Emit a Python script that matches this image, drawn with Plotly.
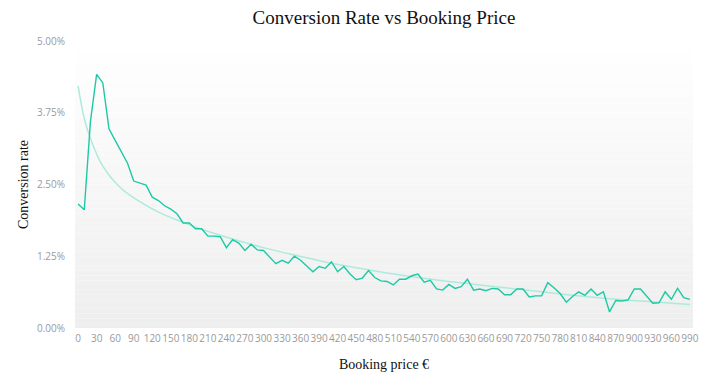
import plotly.graph_objects as go

# ---- data ----
price = list(range(0, 1000, 10))
conversion = [
    2.16, 2.06, 3.60, 4.42, 4.27, 3.47, 3.27, 3.08, 2.87, 2.56,
    2.53, 2.49, 2.28, 2.22, 2.13, 2.07, 1.99, 1.83, 1.83, 1.73,
    1.73, 1.60, 1.60, 1.59, 1.40, 1.54, 1.48, 1.35, 1.46, 1.36,
    1.35, 1.23, 1.12, 1.18, 1.13, 1.25, 1.18, 1.08, 0.98, 1.07,
    1.04, 1.15, 0.98, 1.07, 0.94, 0.84, 0.87, 1.00, 0.88, 0.82,
    0.81, 0.75, 0.85, 0.85, 0.91, 0.94, 0.80, 0.83, 0.68, 0.66,
    0.76, 0.69, 0.72, 0.85, 0.66, 0.68, 0.65, 0.69, 0.68, 0.58,
    0.58, 0.68, 0.68, 0.54, 0.56, 0.56, 0.79, 0.70, 0.60, 0.45,
    0.55, 0.63, 0.57, 0.68, 0.57, 0.63, 0.28, 0.48, 0.47, 0.49,
    0.68, 0.68, 0.55, 0.43, 0.44, 0.63, 0.50, 0.69, 0.53, 0.50,
]
conversion = [v / 100 for v in conversion]

trend_price = [0, 10, 20, 40, 70, 100, 130, 170, 200, 250, 300, 350, 400,
               450, 500, 550, 600, 650, 700, 750, 800, 850, 900, 950, 990]
trend_rate = [4.22, 3.65, 3.30, 2.82, 2.43, 2.20, 2.02, 1.84, 1.72, 1.55,
              1.40, 1.27, 1.15, 1.05, 0.96, 0.88, 0.81, 0.75, 0.69, 0.63,
              0.57, 0.52, 0.48, 0.44, 0.41]
trend_rate = [v / 100 for v in trend_rate]

y_ticks = [0, 0.0125, 0.025, 0.0375, 0.05]
x_ticks = list(range(0, 1000, 30))

title = "Conversion Rate vs Booking Price"
x_title = "Booking price €"
y_title = "Conversion rate"

# ---- figure ----
fig = go.Figure()

fig.add_trace(go.Scatter(
    x=trend_price, y=trend_rate, mode="lines",
    line=dict(color="#aeeadc", width=1.5, shape="spline", smoothing=1.0),
    hoverinfo="skip", showlegend=False,
))
fig.add_trace(go.Scatter(
    x=price, y=conversion, mode="lines",
    line=dict(color="#1ec9a5", width=1.4),
    showlegend=False,
))

# vertical gradient background of the plot area (white at top, light grey at bottom)
shapes = []
n = 60
top = (255, 255, 255)
bot = (238, 238, 238)
for k in range(n):
    t = (k + 0.5) / n
    c = tuple(round(bot[j] + (top[j] - bot[j]) * t) for j in range(3))
    shapes.append(dict(
        type="rect", xref="paper", yref="paper",
        x0=0, x1=1, y0=k / n, y1=(k + 1) / n,
        fillcolor="rgb(%d,%d,%d)" % c, line=dict(width=0), layer="below",
    ))

tick_font = dict(family="Open Sans, sans-serif", size=10, color="#9a9a9a")
serif = "Liberation Serif, Times New Roman, serif"

fig.update_layout(
    width=712, height=376,
    margin=dict(l=75, r=19, t=41, b=48),
    paper_bgcolor="white", plot_bgcolor="rgba(0,0,0,0)",
    shapes=shapes,
    title=dict(text=title, x=0.5, xref="paper", xanchor="center",
               y=1 - 17 / 376, yref="container", yanchor="middle",
               font=dict(family=serif, size=19, color="#111"),
               automargin=False),
    xaxis=dict(
        range=[-5, 995], tickvals=x_ticks, ticktext=[str(v) for v in x_ticks],
        showgrid=False, zeroline=False, showline=False, automargin=False,
        ticks="outside", ticklen=1, tickcolor="rgba(0,0,0,0)",
        tickfont=tick_font, tickangle=0,
        title=dict(text=x_title, standoff=15,
                   font=dict(family=serif, size=14, color="#111")),
    ),
    yaxis=dict(
        range=[0, 0.05], tickvals=y_ticks, tickformat=".2%",
        showgrid=False, zeroline=False, showline=False, automargin=False,
        ticks="outside", ticklen=7, tickcolor="rgba(0,0,0,0)",
        tickfont=tick_font,
        title=dict(text=y_title, standoff=5,
                   font=dict(family=serif, size=14, color="#111")),
    ),
)

fig.write_html("out.html",
               config={"displayModeBar": False},
               post_script="document.body.style.margin='0';document.body.style.overflow='hidden';")
